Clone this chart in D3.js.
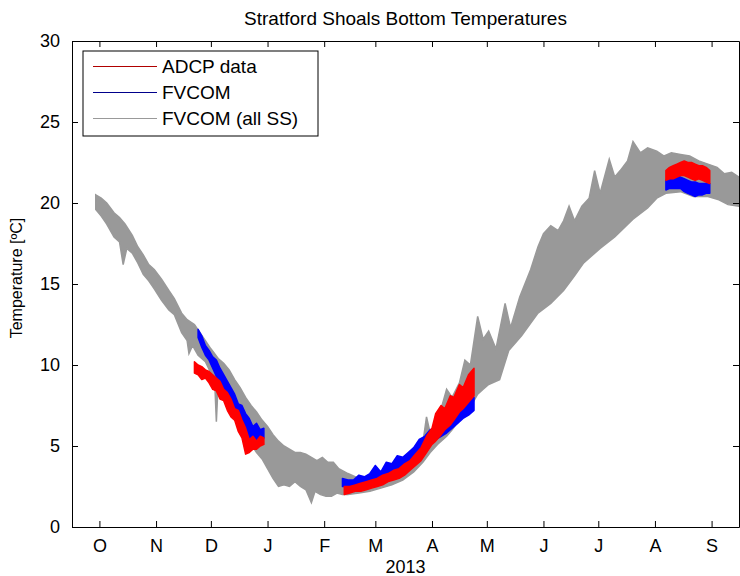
<!DOCTYPE html>
<html>
<head>
<meta charset="utf-8">
<script src="https://cdn.jsdelivr.net/npm/d3@7"></script>
<style>
  body { margin: 0; background: #fff; }
  text { font-family: "Liberation Sans", Arial, sans-serif; }
</style>
</head>
<body>
<div id="chart"></div>
<script>
// Data (temperatures in degrees C)

// x axis ticks
var monthTicks = ["2012-10-01", "2012-11-01", "2012-12-01", "2013-01-01", "2013-02-01", "2013-03-01",
                  "2013-04-01", "2013-05-01", "2013-06-01", "2013-07-01", "2013-08-01", "2013-09-01"];
var monthLabels = ["O", "N", "D", "J", "F", "M", "A", "M", "J", "J", "A", "S"];
var tempTicks = [0, 5, 10, 15, 20, 25, 30];

// FVCOM (all SS): upper and lower edges of the grey envelope
var grayTopDates = ["2012-09-29","2012-10-02","2012-10-05","2012-10-09","2012-10-12","2012-10-15","2012-10-19","2012-10-22",
  "2012-10-25","2012-10-28","2012-10-31","2012-11-04","2012-11-08","2012-11-11","2012-11-15","2012-11-18","2012-11-22",
  "2012-11-25","2012-11-28","2012-12-01","2012-12-05","2012-12-08","2012-12-11","2012-12-14","2012-12-17","2012-12-20",
  "2012-12-23","2012-12-26","2012-12-29","2013-01-01","2013-01-04","2013-01-07","2013-01-10","2013-01-13","2013-01-16",
  "2013-01-19","2013-01-22","2013-01-25","2013-01-28","2013-01-31","2013-02-03","2013-02-06","2013-02-09","2013-02-14",
  "2013-02-20","2013-02-26","2013-03-04","2013-03-10","2013-03-16","2013-03-22","2013-03-27","2013-03-29","2013-03-31",
  "2013-04-04","2013-04-09","2013-04-12","2013-04-16","2013-04-19","2013-04-22","2013-04-26","2013-04-29","2013-05-02",
  "2013-05-06","2013-05-11","2013-05-14","2013-05-19","2013-05-25","2013-05-29","2013-06-01","2013-06-05","2013-06-09",
  "2013-06-12","2013-06-15","2013-06-18","2013-06-22","2013-06-26","2013-06-29","2013-07-02","2013-07-07","2013-07-10",
  "2013-07-13","2013-07-17","2013-07-20","2013-07-24","2013-07-28","2013-08-02","2013-08-06","2013-08-10","2013-08-15",
  "2013-08-20","2013-08-25","2013-08-30","2013-09-04","2013-09-08","2013-09-12","2013-09-16"];
var grayTop = [20.5,20.3,20.0,19.4,19.1,18.7,18.0,17.3,
  16.8,16.2,15.9,15.3,14.6,14.1,13.2,12.8,12.5,
  12.0,11.5,11.0,10.4,10.1,9.7,9.1,8.6,8.0,
  7.5,7.1,6.6,6.2,5.7,5.3,5.0,4.8,4.6,
  4.6,4.5,4.3,4.1,4.3,4.0,4.0,3.6,3.3,
  3.0,2.9,3.0,3.4,3.9,4.5,5.2,6.8,5.8,
  6.5,8.5,8.0,8.9,10.3,10.0,13.0,11.6,12.1,
  11.0,13.8,12.3,14.2,15.9,17.3,18.1,18.6,18.3,
  18.9,19.8,18.9,19.8,20.3,22.0,20.6,22.7,21.6,
  22.0,22.6,23.8,23.1,23.4,23.2,22.9,23.1,23.0,
  22.9,22.6,22.4,22.2,21.8,21.9,21.6];

var grayBottomDates = ["2012-09-29","2012-10-02","2012-10-05","2012-10-09","2012-10-12","2012-10-14","2012-10-16","2012-10-19",
  "2012-10-22","2012-10-25","2012-10-28","2012-10-31","2012-11-04","2012-11-08","2012-11-11","2012-11-15","2012-11-18",
  "2012-11-19","2012-11-21","2012-11-24","2012-11-28","2012-12-01","2012-12-03","2012-12-04","2012-12-05","2012-12-08",
  "2012-12-11","2012-12-14","2012-12-17","2012-12-20","2012-12-23","2012-12-26","2012-12-29","2013-01-01","2013-01-04",
  "2013-01-07","2013-01-10","2013-01-13","2013-01-16","2013-01-19","2013-01-22","2013-01-25","2013-01-27","2013-01-30",
  "2013-02-02","2013-02-05","2013-02-08","2013-02-11","2013-02-14","2013-02-20","2013-02-26","2013-03-04","2013-03-10",
  "2013-03-16","2013-03-22","2013-03-27","2013-03-31","2013-04-04","2013-04-09","2013-04-12","2013-04-16","2013-04-19",
  "2013-04-22","2013-04-26","2013-04-29","2013-05-02","2013-05-08","2013-05-13","2013-05-20","2013-05-29","2013-06-05",
  "2013-06-12","2013-06-18","2013-06-23","2013-07-02","2013-07-10","2013-07-20","2013-07-28","2013-08-02","2013-08-07",
  "2013-08-15","2013-08-22","2013-08-30","2013-09-05","2013-09-10","2013-09-16"];
var grayBottom = [19.6,19.2,18.7,17.9,17.6,16.2,17.2,16.9,
  16.3,15.6,15.2,14.7,14.0,13.4,13.1,12.0,11.5,
  10.7,11.2,10.6,10.2,9.5,9.2,6.5,8.9,8.2,
  7.6,7.0,6.4,5.7,5.1,4.6,4.2,3.6,3.0,
  2.5,2.6,2.5,2.8,2.5,2.3,1.5,2.2,2.0,
  1.9,1.9,2.1,2.0,2.0,2.1,2.2,2.4,2.6,
  2.9,3.4,4.0,4.6,5.1,5.6,6.0,6.6,7.0,
  7.4,8.2,8.5,8.8,9.1,10.9,11.8,13.2,13.8,
  14.6,15.5,16.3,17.2,17.9,19.0,19.7,20.3,20.6,
  20.7,20.4,20.4,20.2,19.9,19.8];

// ADCP data (red), three deployments: low / high edge of the noisy trace
var adcpDecDates = ["2012-11-22","2012-11-24","2012-11-26","2012-11-28","2012-11-30","2012-12-02","2012-12-04","2012-12-06",
  "2012-12-08","2012-12-10","2012-12-12","2012-12-14","2012-12-16","2012-12-18","2012-12-20","2012-12-22","2012-12-24",
  "2012-12-26","2012-12-28","2012-12-30"];
var adcpDecLow  = [9.5,9.4,9.1,9.2,8.9,8.5,8.4,7.9,7.8,7.2,6.8,6.6,5.9,5.5,4.5,4.6,4.8,4.8,5.0,5.1];
var adcpDecHigh = [10.2,10.0,9.9,9.7,9.6,9.4,9.2,9.0,8.5,8.3,7.9,7.3,7.2,6.6,6.1,5.4,5.6,5.3,5.6,5.5];

var adcpSpringDates = ["2013-02-12","2013-02-15","2013-02-18","2013-02-21","2013-02-24","2013-02-27","2013-03-02","2013-03-05",
  "2013-03-08","2013-03-11","2013-03-14","2013-03-17","2013-03-20","2013-03-23","2013-03-26","2013-03-29","2013-04-01",
  "2013-04-03","2013-04-06","2013-04-08","2013-04-11","2013-04-13","2013-04-16","2013-04-18","2013-04-21","2013-04-24"];
var adcpSpringLow  = [2.0,2.1,2.2,2.2,2.3,2.4,2.5,2.6,2.8,2.9,3.0,3.2,3.5,3.8,4.1,4.6,5.1,5.3,5.7,6.0,6.3,6.6,7.1,7.3,7.7,8.1];
var adcpSpringHigh = [2.5,2.5,2.6,2.7,2.8,2.9,3.0,3.2,3.3,3.5,3.6,3.9,4.1,4.5,4.9,5.6,6.1,7.0,7.5,7.3,8.1,8.0,8.8,8.6,9.4,9.8];

var adcpAugDates = ["2013-08-07","2013-08-09","2013-08-11","2013-08-13","2013-08-15","2013-08-17","2013-08-19","2013-08-21",
  "2013-08-23","2013-08-25","2013-08-27","2013-08-29","2013-08-31"];
var adcpAugLow  = [21.4,21.5,21.5,21.6,21.7,21.7,21.6,21.5,21.4,21.5,21.4,21.3,21.2];
var adcpAugHigh = [22.0,22.2,22.3,22.4,22.5,22.6,22.5,22.5,22.4,22.3,22.3,22.2,22.0];

// FVCOM at the ADCP site (blue)
var fvcomDecDates = ["2012-11-24","2012-11-26","2012-11-28","2012-11-30","2012-12-02","2012-12-04","2012-12-06","2012-12-08",
  "2012-12-10","2012-12-12","2012-12-14","2012-12-16","2012-12-18","2012-12-20","2012-12-22","2012-12-24","2012-12-26",
  "2012-12-28","2012-12-30"];
var fvcomDecLow  = [11.7,11.1,10.6,10.3,9.8,9.3,8.8,8.6,7.9,7.6,7.1,6.9,6.1,6.0,5.4,5.6,5.4,5.6,5.5];
var fvcomDecHigh = [12.2,11.8,11.2,10.9,10.5,10.3,9.8,9.4,9.0,8.6,8.2,7.6,7.5,7.0,6.7,6.2,6.4,6.0,6.1];

var fvcomSpringDates = ["2013-02-11","2013-02-14","2013-02-17","2013-02-20","2013-02-23","2013-02-26","2013-03-01","2013-03-04",
  "2013-03-07","2013-03-10","2013-03-13","2013-03-16","2013-03-19","2013-03-22","2013-03-25","2013-03-28","2013-03-31",
  "2013-04-03","2013-04-06","2013-04-09","2013-04-12","2013-04-15","2013-04-18","2013-04-21","2013-04-24"];
var fvcomSpringLow  = [2.5,2.5,2.4,2.6,2.5,2.7,2.9,2.9,3.2,3.3,3.6,3.7,4.0,4.1,4.4,4.8,5.1,5.4,5.6,5.8,6.1,6.4,6.7,6.9,7.2];
var fvcomSpringHigh = [3.0,2.9,2.9,3.2,3.1,3.3,3.8,3.4,4.0,3.9,4.4,4.3,4.6,4.9,5.4,5.6,6.0,6.2,6.5,6.8,7.0,7.3,7.5,7.8,8.0];

var fvcomAugDates = ["2013-08-07","2013-08-09","2013-08-11","2013-08-13","2013-08-15","2013-08-17","2013-08-19","2013-08-21",
  "2013-08-23","2013-08-25","2013-08-27","2013-08-29","2013-08-31"];
var fvcomAugLow  = [20.8,20.9,20.9,20.9,20.9,20.7,20.6,20.5,20.4,20.5,20.5,20.6,20.6];
var fvcomAugHigh = [21.4,21.6,21.6,21.7,21.6,21.5,21.4,21.3,21.3,21.2,21.2,21.2,21.2];

var legendNames = ["ADCP data", "FVCOM", "FVCOM (all SS)"];
var legendColors = ["#b00000", "#00008b", "#999999"];

// Chart setup
var svgWidth = 740;
var svgHeight = 576;
var margin = { top: 41, right: 1, bottom: 49, left: 72 };
var width = svgWidth - margin.left - margin.right;
var height = svgHeight - margin.top - margin.bottom;

var parseDate = d3.timeParse("%Y-%m-%d");

var svg = d3.select("#chart").append("svg")
  .attr("width", svgWidth)
  .attr("height", svgHeight);

var chartGroup = svg.append("g")
  .attr("transform", `translate(${margin.left}, ${margin.top})`);

var xScale = d3.scaleTime()
  .domain([parseDate("2012-09-16"), parseDate("2013-09-16")])
  .range([0, width]);

var yScale = d3.scaleLinear()
  .domain([0, 30])
  .range([height, 0]);

chartGroup.append("clipPath").attr("id", "plotClip")
  .append("rect").attr("width", width).attr("height", height);

var plot = chartGroup.append("g").attr("clip-path", "url(#plotClip)");

// grey envelope: top edge forward, bottom edge backward
var edgeLine = d3.line()
  .x(d => xScale(d.date))
  .y(d => yScale(d.t));

var topPts = grayTopDates.map((d, i) => ({ date: parseDate(d), t: grayTop[i] }));
var bottomPts = grayBottomDates.map((d, i) => ({ date: parseDate(d), t: grayBottom[i] })).reverse();

plot.append("path")
  .attr("d", edgeLine(topPts.concat(bottomPts)) + "Z")
  .attr("fill", "#999999")
  .attr("stroke", "#999999")
  .attr("stroke-width", 1.5);

var bandArea = d3.area()
  .x(d => xScale(d.date))
  .y0(d => yScale(d.lo))
  .y1(d => yScale(d.hi));

function drawBand(dates, lo, hi, color) {
  var pts = dates.map((d, i) => ({ date: parseDate(d), lo: lo[i], hi: hi[i] }));
  plot.append("path")
    .attr("d", bandArea(pts))
    .attr("fill", color)
    .attr("stroke", color)
    .attr("stroke-width", 1.5)
    .attr("stroke-linejoin", "round");
}

drawBand(fvcomDecDates, fvcomDecLow, fvcomDecHigh, "#0000ff");
drawBand(fvcomSpringDates, fvcomSpringLow, fvcomSpringHigh, "#0000ff");
drawBand(fvcomAugDates, fvcomAugLow, fvcomAugHigh, "#0000ff");
drawBand(adcpDecDates, adcpDecLow, adcpDecHigh, "#ff0000");
drawBand(adcpSpringDates, adcpSpringLow, adcpSpringHigh, "#ff0000");
drawBand(adcpAugDates, adcpAugLow, adcpAugHigh, "#ff0000");

// Axes (ticks point inward, MATLAB style)
var tickDates = monthTicks.map(parseDate);

var xAxis = d3.axisBottom(xScale)
  .tickValues(tickDates)
  .tickFormat((d, i) => monthLabels[i])
  .tickSizeInner(-6)
  .tickSizeOuter(0)
  .tickPadding(12);

var xAxisTop = d3.axisTop(xScale)
  .tickValues(tickDates)
  .tickFormat("")
  .tickSizeInner(-6)
  .tickSizeOuter(0);

var yAxis = d3.axisLeft(yScale)
  .tickValues(tempTicks)
  .tickSizeInner(-6)
  .tickSizeOuter(0)
  .tickPadding(12);

var yAxisRight = d3.axisRight(yScale)
  .tickValues(tempTicks)
  .tickFormat("")
  .tickSizeInner(-6)
  .tickSizeOuter(0);

chartGroup.append("g")
  .attr("transform", `translate(0, ${height})`)
  .call(xAxis);

chartGroup.append("g").call(xAxisTop);

chartGroup.append("g").call(yAxis);

chartGroup.append("g")
  .attr("transform", `translate(${width}, 0)`)
  .call(yAxisRight);

chartGroup.selectAll(".tick text")
  .attr("font-family", "Liberation Sans, Arial, sans-serif")
  .attr("font-size", "18px")
  .attr("fill", "#000");

chartGroup.selectAll(".domain, .tick line")
  .attr("stroke", "#000");

// Title and axis labels
svg.append("text")
  .attr("x", margin.left + width / 2)
  .attr("y", 25)
  .style("text-anchor", "middle")
  .attr("font-size", "19px")
  .text("Stratford Shoals Bottom Temperatures");

svg.append("text")
  .attr("x", margin.left + width / 2)
  .attr("y", 573)
  .style("text-anchor", "middle")
  .attr("font-size", "18px")
  .text("2013");

svg.append("text")
  .attr("transform", `translate(22, ${margin.top + height / 2 - 6}) rotate(-90)`)
  .style("text-anchor", "middle")
  .attr("font-size", "16px")
  .text("Temperature [\u00BAC]");

// Legend, drawn on the outer svg on top of everything
var legend = svg.append("g")
  .attr("transform", "translate(83, 51)");

legend.append("rect")
  .attr("width", 235)
  .attr("height", 85)
  .attr("fill", "#fff")
  .attr("stroke", "#000")
  .attr("stroke-width", 1);

legendNames.forEach(function(name, i) {
  var ly = 15.5 + i * 26;
  legend.append("line")
    .attr("x1", 10).attr("x2", 74)
    .attr("y1", ly).attr("y2", ly)
    .attr("stroke", legendColors[i])
    .attr("stroke-width", 1);
  legend.append("text")
    .attr("x", 79)
    .attr("y", ly)
    .attr("dy", "0.35em")
    .attr("font-size", "19px")
    .text(name);
});
</script>
</body>
</html>
